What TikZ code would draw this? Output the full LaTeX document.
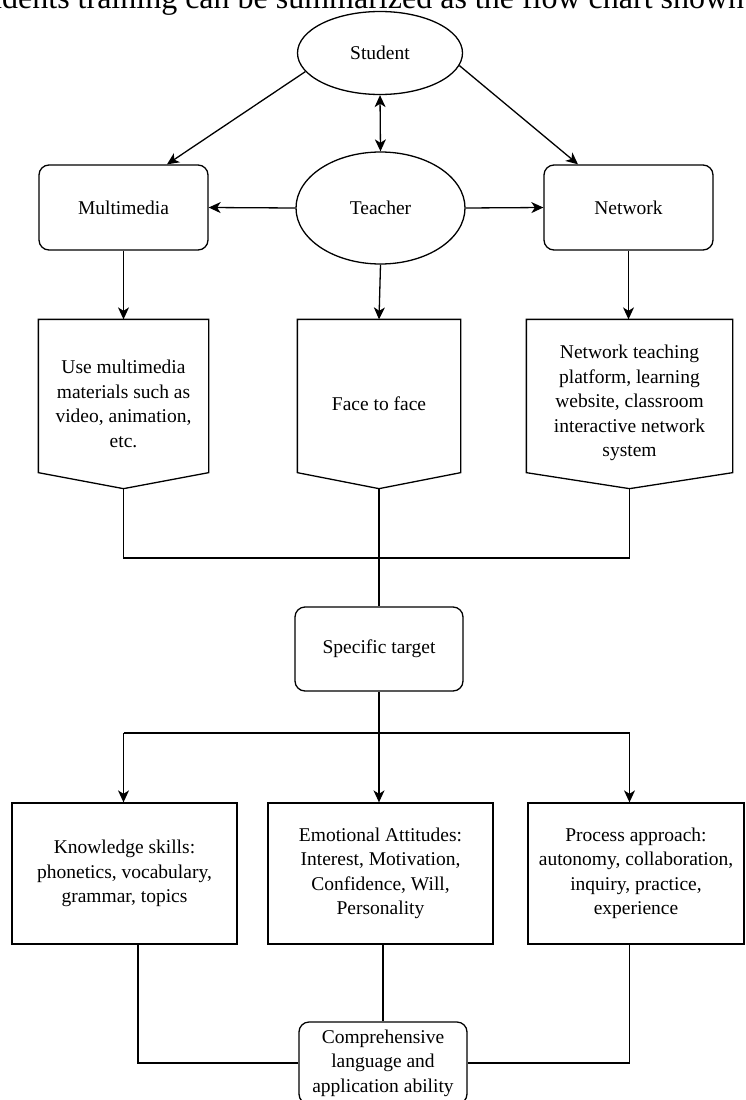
\documentclass[tikz,border=0pt]{standalone}
\usepackage{fontspec}
\setmainfont{Liberation Serif}
\usetikzlibrary{arrows.meta,shapes.geometric,calc}
\begin{document}
\begin{tikzpicture}[x=1pt,y=-1pt,line width=1.3pt,
  every node/.style={font=\fontsize{19.5}{24.5}\selectfont,align=center,inner sep=0pt},
  oval/.style={draw,ellipse},
  rbox/.style={draw,rounded corners=10pt,minimum width=169,minimum height=85},
  sqbox/.style={draw,minimum height=141},
  docbody/.style={minimum width=#1,minimum height=152},
  arr/.style={-{Stealth[length=12pt,width=11pt,inset=3.5pt]}},
  darr/.style={{Stealth[length=12pt,width=11pt,inset=3.5pt]}-{Stealth[length=12pt,width=11pt,inset=3.5pt]}}]
\useasboundingbox (0,0) rectangle (745,1100);
% cropped heading line
\node[anchor=base west,font=\fontsize{32}{38}\selectfont] (head) at (-14.5,9) {udents training can be summarized as the flow chart shown};
% top row
\node[oval,minimum width=165,minimum height=83] (stu) at (380,53) {Student};
\node[oval,minimum width=169,minimum height=112] (tea) at (380.5,208) {Teacher};
\node[rbox] (mm) at (123.5,207.5) {Multimedia};
\node[rbox] (net) at (628.5,207.5) {Network};
% document shapes
\node[docbody=169] (d1) at (123.5,396) {};
\node[docbody=162] (d2) at (379,396) {};
\node[docbody=205] (d3) at (629.5,396) {};
\coordinate (d1tip) at ($(d1.south)+(0,16)$);
\coordinate (d2tip) at ($(d2.south)+(0,16)$);
\coordinate (d3tip) at ($(d3.south)+(0,16)$);
\draw (d1.south west) -- (d1.north west) -- (d1.north east) -- (d1.south east) -- (d1tip) -- cycle;
\draw (d2.south west) -- (d2.north west) -- (d2.north east) -- (d2.south east) -- (d2tip) -- cycle;
\draw (d3.south west) -- (d3.north west) -- (d3.north east) -- (d3.south east) -- (d3tip) -- cycle;
\node (d1t) at ($(d1.center)+(0,8)$) {Use multimedia\\materials such as\\video, animation,\\etc.};
\node (d2t) at ($(d2.center)+(0,8)$) {Face to face};
\node (d3t) at ($(d3.center)+(0,7)$) {Network teaching\\platform, learning\\website, classroom\\interactive network\\system};
% middle
\node[rbox,minimum width=168,minimum height=84] (st) at (379,649) {Specific target};
\coordinate (b1) at (379,558);
\coordinate (b2) at (379,733);
% bottom row
\node[sqbox,minimum width=225] (k1) at (124.5,873.5) {Knowledge skills:\\phonetics, vocabulary,\\grammar, topics};
\node[sqbox,minimum width=225] (k2) at (380.5,873.5) {Emotional Attitudes:\\Interest, Motivation,\\Confidence, Will,\\Personality};
\node[sqbox,minimum width=216] (k3) at (636,873.5) {Process approach:\\autonomy, collaboration,\\inquiry, practice,\\experience};
\node[rbox,minimum width=168,minimum height=82] (cp) at (383,1063) {Comprehensive\\language and\\application ability};
% connectors top
\draw[arr] (stu.194) -- ($(mm.north)+(43.5,0)$);
\draw[arr] (stu.351.5) -- ($(net.north)+(-50.5,0)$);
\draw[darr] (stu.south) -- (tea.north);
\draw[arr] (tea.west) -- (mm.east);
\draw[arr] (tea.east) -- (net.west);
\draw[arr] (mm.south) -- (d1.north);
\draw[arr] (tea.south) -- (d2.north);
\draw[arr] (net.south) -- (net.south |- d3.north);
% bus 1
\draw (d1tip) -- (d1tip |- b1) -- (d3tip |- b1) -- (d3tip);
\draw (d2tip) -- (st.north);
% bus 2
\draw (st.south) -- (b2);
\draw (b2 -| d1tip) -- (b2 -| d3tip);
\draw[arr] (b2 -| d1tip) -- (k1.north -| d1tip);
\draw[arr] (b2) -- (k2.north -| b2);
\draw[arr] (b2 -| d3tip) -- (k3.north -| d3tip);
% to comprehensive
\draw ($(k1.south)+(13.5,0)$) |- (cp.west);
\draw (cp.north |- k2.south) -- (cp.north);
\draw (d3tip |- k3.south) |- (cp.east);
\end{tikzpicture}
\end{document}
